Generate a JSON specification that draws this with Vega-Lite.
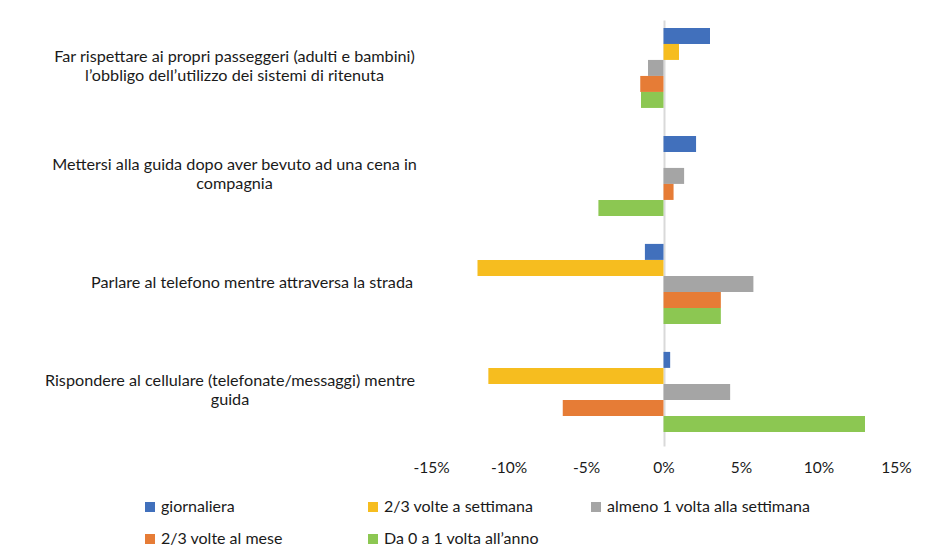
{
  "$schema": "https://vega.github.io/schema/vega-lite/v6.json",
  "width": 465,
  "height": 426,
  "autosize": "none",
  "padding": {"left": 431, "top": 20, "right": 53, "bottom": 110},
  "background": "white",
  "config": {"view": {"stroke": null}, "font": "Lato"},
  "data": {
    "values": [
      {"attivita": "Far rispettare ai propri passeggeri (adulti e bambini)|l’obbligo dell’utilizzo dei sistemi di ritenuta", "frequenza": "giornaliera", "valore": 0.030},
      {"attivita": "Far rispettare ai propri passeggeri (adulti e bambini)|l’obbligo dell’utilizzo dei sistemi di ritenuta", "frequenza": "2/3 volte a settimana", "valore": 0.010},
      {"attivita": "Far rispettare ai propri passeggeri (adulti e bambini)|l’obbligo dell’utilizzo dei sistemi di ritenuta", "frequenza": "almeno 1 volta alla settimana", "valore": -0.010},
      {"attivita": "Far rispettare ai propri passeggeri (adulti e bambini)|l’obbligo dell’utilizzo dei sistemi di ritenuta", "frequenza": "2/3 volte al mese", "valore": -0.015},
      {"attivita": "Far rispettare ai propri passeggeri (adulti e bambini)|l’obbligo dell’utilizzo dei sistemi di ritenuta", "frequenza": "Da 0 a 1 volta all’anno", "valore": -0.0145},
      {"attivita": "Mettersi alla guida dopo aver bevuto ad una cena in|compagnia", "frequenza": "giornaliera", "valore": 0.021},
      {"attivita": "Mettersi alla guida dopo aver bevuto ad una cena in|compagnia", "frequenza": "almeno 1 volta alla settimana", "valore": 0.0133},
      {"attivita": "Mettersi alla guida dopo aver bevuto ad una cena in|compagnia", "frequenza": "2/3 volte al mese", "valore": 0.0065},
      {"attivita": "Mettersi alla guida dopo aver bevuto ad una cena in|compagnia", "frequenza": "Da 0 a 1 volta all’anno", "valore": -0.042},
      {"attivita": "Parlare al telefono mentre attraversa la strada", "frequenza": "giornaliera", "valore": -0.012},
      {"attivita": "Parlare al telefono mentre attraversa la strada", "frequenza": "2/3 volte a settimana", "valore": -0.120},
      {"attivita": "Parlare al telefono mentre attraversa la strada", "frequenza": "almeno 1 volta alla settimana", "valore": 0.058},
      {"attivita": "Parlare al telefono mentre attraversa la strada", "frequenza": "2/3 volte al mese", "valore": 0.037},
      {"attivita": "Parlare al telefono mentre attraversa la strada", "frequenza": "Da 0 a 1 volta all’anno", "valore": 0.037},
      {"attivita": "Rispondere al cellulare (telefonate/messaggi) mentre|guida", "frequenza": "giornaliera", "valore": 0.0043},
      {"attivita": "Rispondere al cellulare (telefonate/messaggi) mentre|guida", "frequenza": "2/3 volte a settimana", "valore": -0.113},
      {"attivita": "Rispondere al cellulare (telefonate/messaggi) mentre|guida", "frequenza": "almeno 1 volta alla settimana", "valore": 0.043},
      {"attivita": "Rispondere al cellulare (telefonate/messaggi) mentre|guida", "frequenza": "2/3 volte al mese", "valore": -0.065},
      {"attivita": "Rispondere al cellulare (telefonate/messaggi) mentre|guida", "frequenza": "Da 0 a 1 volta all’anno", "valore": 0.130}
    ]
  },
  "mark": {"type": "bar"},
  "encoding": {
    "y": {
      "field": "attivita",
      "type": "nominal",
      "sort": [
        "Far rispettare ai propri passeggeri (adulti e bambini)|l’obbligo dell’utilizzo dei sistemi di ritenuta",
        "Mettersi alla guida dopo aver bevuto ad una cena in|compagnia",
        "Parlare al telefono mentre attraversa la strada",
        "Rispondere al cellulare (telefonate/messaggi) mentre|guida"
      ],
      "scale": {"paddingInner": 0.259, "paddingOuter": 0.102, "align": 0.36},
      "axis": {
        "title": null,
        "domain": false,
        "ticks": false,
        "labelPadding": {
          "condition": [
            {"test": "indexof(datum.value, 'Parlare') === 0", "value": 179.5},
            {"test": "indexof(datum.value, 'Rispondere') === 0", "value": 201.5}
          ],
          "value": 197
        },
        "labelOffset": {
          "condition": {"test": "indexof(datum.value, '|') >= 0", "value": -11},
          "value": -1
        },
        "labelAlign": "center",
        "labelBaseline": "middle",
        "labelExpr": "split(datum.label, '|')",
        "labelLineHeight": 19,
        "labelFontSize": 16.2,
        "labelLimit": 600,
        "labelColor": "#1a1a1a"
      }
    },
    "yOffset": {
      "field": "frequenza",
      "sort": ["giornaliera", "2/3 volte a settimana", "almeno 1 volta alla settimana", "2/3 volte al mese", "Da 0 a 1 volta all’anno"],
      "scale": {"paddingInner": 0, "paddingOuter": 0}
    },
    "x": {
      "field": "valore",
      "type": "quantitative",
      "scale": {"domain": [-0.15, 0.15], "nice": false},
      "axis": {
        "title": null,
        "domain": false,
        "ticks": false,
        "values": [-0.15, -0.1, -0.05, 0, 0.05, 0.1, 0.15],
        "labelExpr": "(datum.value < 0 ? '-' : '') + format(abs(datum.value) * 100, '.0f') + '%'",
        "labelFlush": false,
        "labelOverlap": false,
        "labelFontSize": 15.5,
        "labelPadding": 14,
        "labelColor": "#1a1a1a",
        "grid": true,
        "gridWidth": 2,
        "gridColor": {"condition": {"test": "datum.value === 0", "value": "#D9D9D9"}, "value": "transparent"}
      }
    },
    "color": {
      "field": "frequenza",
      "type": "nominal",
      "scale": {
        "domain": ["giornaliera", "2/3 volte a settimana", "almeno 1 volta alla settimana", "2/3 volte al mese", "Da 0 a 1 volta all’anno"],
        "range": ["#4170BC", "#F6BD1F", "#A5A5A5", "#E67C36", "#8CC752"]
      },
      "legend": {
        "title": null,
        "orient": "none",
        "legendX": -289,
        "legendY": 479,
        "direction": "horizontal",
        "columns": 3,
        "gridAlign": "all",
        "columnPadding": -8,
        "rowPadding": 16,
        "symbolType": "square",
        "symbolSize": 100,
        "symbolOffset": 0,
        "symbolStrokeWidth": 0,
        "labelOffset": 3,
        "labelFontSize": 16,
        "labelLimit": 300,
        "labelColor": "#1a1a1a"
      }
    }
  }
}
